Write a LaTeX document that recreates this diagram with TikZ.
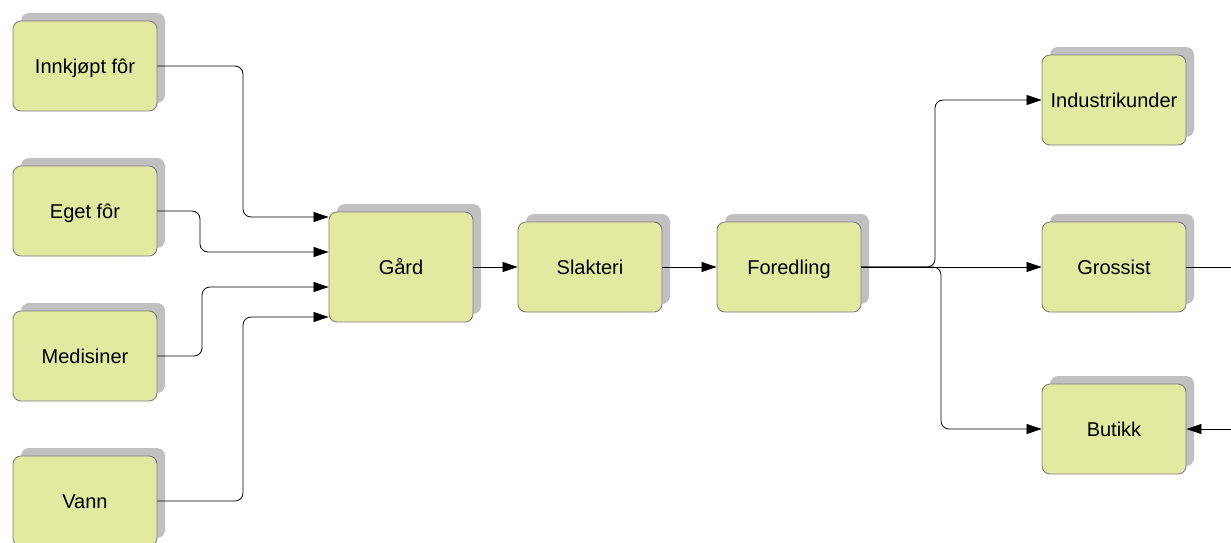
\documentclass[tikz,border=0pt]{standalone}
\usepackage{fontspec}
\setmainfont{Liberation Sans}
\usetikzlibrary{arrows.meta,shadows,calc}
\definecolor{boxfill}{RGB}{226,233,161}
\definecolor{boxline}{RGB}{128,128,128}
\definecolor{shadowgray}{RGB}{192,192,192}
\tikzset{
  stage/.style={rectangle, rounded corners=8pt, draw=boxline, line width=0.9pt,
    fill=boxfill, minimum width=144pt, minimum height=90pt,
    font=\fontsize{20}{24}\selectfont, text height=16pt, text depth=2pt,
    drop shadow={shadow xshift=8pt, shadow yshift=8pt, fill=shadowgray, opacity=1}},
  bigstage/.style={stage, minimum height=110pt},
  conn/.style={draw=black, line width=0.8pt, rounded corners=8pt,
    -{Triangle[length=15pt,width=10pt]}},
  plain/.style={draw=black, line width=0.8pt}
}
\begin{document}
\begin{tikzpicture}[x=1pt,y=-1pt]
\useasboundingbox (0,0) rectangle (1231,542);

% inputs
\node[stage] (inn)  at (85,66)  {Innkjøpt fôr};
\node[stage] (eget) at (85,211) {Eget fôr};
\node[stage] (med)  at (85,356) {Medisiner};
\node[stage] (vann) at (85,501) {Vann};

% main chain
\node[bigstage] (gard)  at (401,267) {Gård};
\node[stage]    (slakt) at (590,267) {Slakteri};
\node[stage]    (fored) at (789,267) {Foredling};

% outputs
\node[stage] (ind)  at (1114,100) {Industrikunder};
\node[stage] (gros) at (1114,267) {Grossist};
\node[stage] (but)  at (1114,429) {Butikk};

% entry points on the farm
\coordinate (g1) at ($(gard.west)+(0,-50)$);
\coordinate (g2) at ($(gard.west)+(0,-15)$);
\coordinate (g3) at ($(gard.west)+(0,20)$);
\coordinate (g4) at ($(gard.west)+(0,50)$);

\draw[conn] (inn.east)  -| (243,0 |- g1) -- (g1);
\draw[conn] (eget.east) -| (200,0 |- g2) -- (g2);
\draw[conn] (med.east)  -| (202,0 |- g3) -- (g3);
\draw[conn] (vann.east) -| (243,0 |- g4) -- (g4);

\draw[conn] (gard.east)  -- (slakt.west);
\draw[conn] (slakt.east) -- (fored.west);

\draw[conn] (fored.east) -| (935,0 |- ind.west) -- (ind.west);
\draw[conn] (fored.east) -- (gros.west);
\draw[conn] (fored.east) -| (941,0 |- but.west) -- (but.west);

% links leaving the right edge
\coordinate (outA) at (1231,267);
\coordinate (outB) at (1231,429);
\draw[plain] (gros.east) -- (outA);
\draw[conn] (outB) -- (but.east);
\end{tikzpicture}
\end{document}
